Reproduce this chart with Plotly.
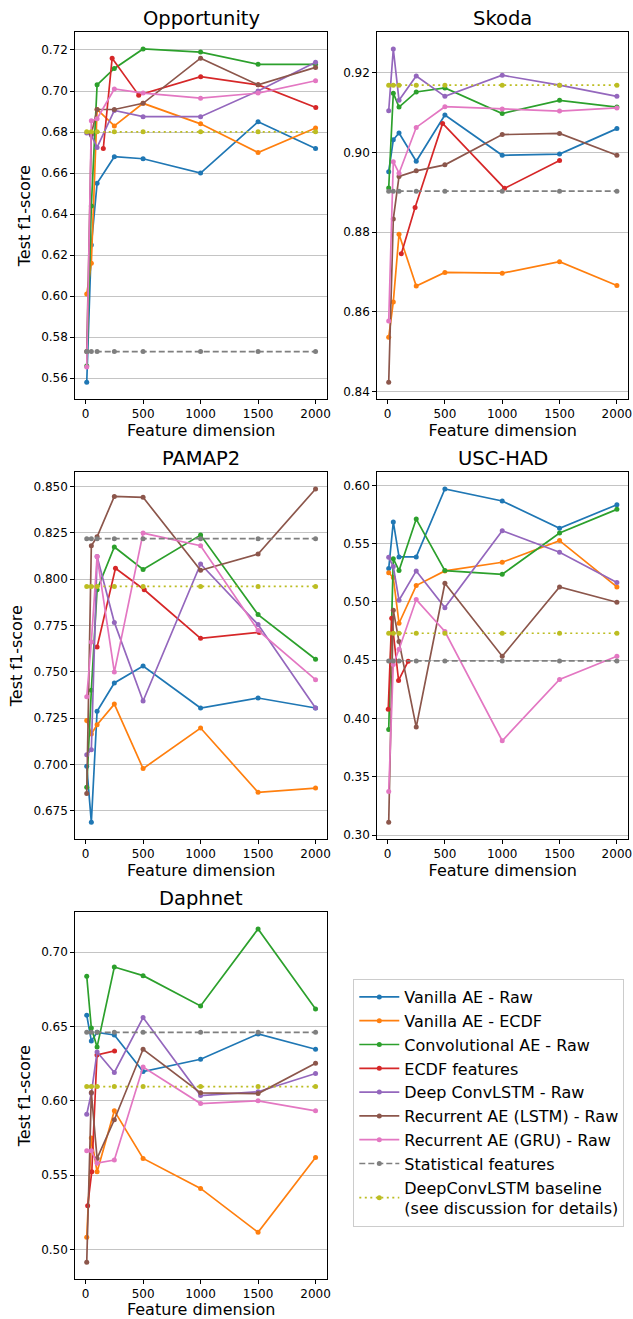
import plotly.graph_objects as go

# ---------------- data ----------------
series_names = [
    "Vanilla AE - Raw",
    "Vanilla AE - ECDF",
    "Convolutional AE - Raw",
    "ECDF features",
    "Deep ConvLSTM - Raw",
    "Recurrent AE (LSTM) - Raw",
    "Recurrent AE (GRU) - Raw",
    "Statistical features",
    "DeepConvLSTM baseline<br>(see discussion for details)",
]
colors = ["#1f77b4", "#ff7f0e", "#2ca02c", "#d62728", "#9467bd",
          "#8c564b", "#e377c2", "#7f7f7f", "#bcbd22"]

feature_dims = [10, 50, 100, 250, 500, 1000, 1500, 2000]

# Opportunity
opp_vanilla_raw = [0.558, 0.625, 0.655, 0.668, 0.667, 0.660, 0.685, 0.672]
opp_vanilla_ecdf = [0.601, 0.616, 0.691, 0.683, 0.694, 0.684, 0.670, 0.682]
opp_conv_raw = [0.566, 0.644, 0.703, 0.711, 0.7205, 0.719, 0.713, 0.713]
opp_ecdf_dims = [154, 231, 462, 1001, 1501, 2002]
opp_ecdf = [0.672, 0.716, 0.698, 0.707, 0.703, 0.692]
opp_convlstm = [0.6795, 0.6785, 0.6725, 0.6905, 0.6875, 0.6875, 0.700, 0.714]
opp_lstm = [0.573, 0.679, 0.691, 0.691, 0.694, 0.716, 0.703, 0.7115]
opp_gru = [0.5655, 0.6855, 0.6865, 0.701, 0.699, 0.6965, 0.699, 0.705]
opp_stat = 0.5730
opp_baseline = 0.6801

# Skoda
sko_vanilla_raw = [0.8952, 0.9032, 0.9049, 0.8978, 0.9094, 0.8993, 0.8996, 0.9060]
sko_vanilla_ecdf = [0.8536, 0.8625, 0.8795, 0.8665, 0.8699, 0.8697, 0.8726, 0.8666]
sko_conv_raw = [0.8911, 0.9149, 0.9114, 0.9152, 0.9162, 0.9098, 0.9131, 0.9114]
sko_ecdf_dims = [120, 240, 480, 1020, 1500]
sko_ecdf = [0.8746, 0.8862, 0.9073, 0.8910, 0.8980]
sko_convlstm = [0.9105, 0.9260, 0.9131, 0.9192, 0.9141, 0.9194, 0.9169, 0.9141]
sko_lstm = [0.8423, 0.8833, 0.8940, 0.8954, 0.8969, 0.9045, 0.9048, 0.8993]
sko_gru = [0.8577, 0.8977, 0.8948, 0.9063, 0.9115, 0.9109, 0.9104, 0.9112]
sko_stat = 0.8903
sko_baseline = 0.9169

# PAMAP2
pam_vanilla_raw = [0.6989, 0.6687, 0.7286, 0.7439, 0.7530, 0.7304, 0.7358, 0.7304]
pam_vanilla_ecdf = [0.7236, 0.7164, 0.7214, 0.7325, 0.6977, 0.7196, 0.6849, 0.6872]
pam_conv_raw = [0.6876, 0.7400, 0.7942, 0.8173, 0.8052, 0.8237, 0.7808, 0.7567]
pam_ecdf_dims = [100, 260, 510, 1000, 1510]
pam_ecdf = [0.7633, 0.8058, 0.7942, 0.7680, 0.7712]
pam_convlstm = [0.7052, 0.7079, 0.8122, 0.7766, 0.7342, 0.8081, 0.7754, 0.7304]
pam_lstm = [0.6843, 0.8180, 0.8228, 0.8446, 0.8441, 0.8047, 0.8135, 0.8486]
pam_gru = [0.7365, 0.7660, 0.8122, 0.7498, 0.8248, 0.8180, 0.7723, 0.7457]
pam_stat = 0.8218
pam_baseline = 0.7960

# USC-HAD
usc_vanilla_raw = [0.5286, 0.5686, 0.5386, 0.5386, 0.5969, 0.5866, 0.5631, 0.5834]
usc_vanilla_ecdf = [0.5250, 0.5209, 0.4817, 0.5140, 0.5266, 0.5340, 0.5526, 0.5129]
usc_conv_raw = [0.3906, 0.5371, 0.5269, 0.5711, 0.5269, 0.5237, 0.5591, 0.5794]
usc_ecdf_dims = [6, 36, 96, 180]
usc_ecdf = [0.4080, 0.4860, 0.4326, 0.4491]
usc_convlstm = [0.5383, 0.5303, 0.5014, 0.5266, 0.4951, 0.5611, 0.5426, 0.5166]
usc_lstm = [0.3109, 0.4929, 0.4660, 0.3926, 0.5160, 0.4534, 0.5129, 0.4997]
usc_gru = [0.3374, 0.4463, 0.4594, 0.5020, 0.4746, 0.3809, 0.4334, 0.4534]
usc_stat = 0.4494
usc_baseline = 0.4731

# Daphnet
dap_vanilla_raw = [0.6575, 0.6402, 0.6460, 0.6442, 0.6196, 0.6279, 0.6449, 0.6346]
dap_vanilla_ecdf = [0.5081, 0.5750, 0.5522, 0.5932, 0.5612, 0.5410, 0.5115, 0.5618]
dap_conv_raw = [0.6837, 0.6489, 0.6362, 0.6899, 0.6841, 0.6637, 0.7155, 0.6617]
dap_ecdf_dims = [18, 54, 99, 252]
dap_ecdf = [0.5294, 0.5522, 0.6308, 0.6335]
dap_convlstm = [0.5909, 0.6050, 0.6328, 0.6190, 0.6559, 0.6035, 0.6060, 0.6183]
dap_lstm = [0.4913, 0.6055, 0.5612, 0.5872, 0.6346, 0.6053, 0.6048, 0.6252]
dap_gru = [0.5663, 0.5663, 0.5580, 0.5601, 0.6227, 0.5981, 0.5999, 0.5932]
dap_stat = 0.6460
dap_baseline = 0.6095

datasets = [
    ("Opportunity", opp_vanilla_raw, opp_vanilla_ecdf, opp_conv_raw, opp_ecdf_dims, opp_ecdf,
     opp_convlstm, opp_lstm, opp_gru, opp_stat, opp_baseline, 0.02, ".2f"),
    ("Skoda", sko_vanilla_raw, sko_vanilla_ecdf, sko_conv_raw, sko_ecdf_dims, sko_ecdf,
     sko_convlstm, sko_lstm, sko_gru, sko_stat, sko_baseline, 0.02, ".2f"),
    ("PAMAP2", pam_vanilla_raw, pam_vanilla_ecdf, pam_conv_raw, pam_ecdf_dims, pam_ecdf,
     pam_convlstm, pam_lstm, pam_gru, pam_stat, pam_baseline, 0.025, ".3f"),
    ("USC-HAD", usc_vanilla_raw, usc_vanilla_ecdf, usc_conv_raw, usc_ecdf_dims, usc_ecdf,
     usc_convlstm, usc_lstm, usc_gru, usc_stat, usc_baseline, 0.05, ".2f"),
    ("Daphnet", dap_vanilla_raw, dap_vanilla_ecdf, dap_conv_raw, dap_ecdf_dims, dap_ecdf,
     dap_convlstm, dap_lstm, dap_gru, dap_stat, dap_baseline, 0.05, ".2f"),
]

# ---------------- layout geometry ----------------
W, H = 633, 1319
col_px = [(75.3, 327.0), (377.3, 628.3)]
row_px = [(32.3, 399.0), (472.3, 839.0), (912.3, 1279.0)]
FONT = "DejaVu Sans"

fig = go.Figure()
layout_axes = {}
annotations = []

for i, ds in enumerate(datasets):
    (title, v_raw, v_ecdf, conv, e_dims, e_vals, clstm, lstm, gru, stat, base, dtick, fmt) = ds
    r, c = divmod(i, 2)
    ax = "" if i == 0 else str(i + 1)
    xa, ya = "x" + ax, "y" + ax

    traces = [
        (feature_dims, v_raw), (feature_dims, v_ecdf), (feature_dims, conv),
        (e_dims, e_vals), (feature_dims, clstm), (feature_dims, lstm), (feature_dims, gru),
        (feature_dims, [stat] * len(feature_dims)), (feature_dims, [base] * len(feature_dims)),
    ]
    for k, (xs, ys) in enumerate(traces):
        dash = "solid"
        width = 1.7
        if k == 7:
            dash = "6px,3px"
        elif k == 8:
            dash = "2px,3.5px"
        fig.add_trace(go.Scatter(
            x=xs, y=ys, mode="lines+markers", name=series_names[k],
            line=dict(color=colors[k], width=width, dash=dash),
            marker=dict(color=colors[k], size=5),
            xaxis=xa, yaxis=ya, showlegend=(i == 0), legendgroup=str(k),
        ))

    all_y = v_raw + v_ecdf + conv + e_vals + clstm + lstm + gru + [stat, base]
    lo, hi = min(all_y), max(all_y)
    pad = (hi - lo) * 0.05
    x0, x1 = col_px[c]
    yt, yb = row_px[r]
    xdom = [x0 / W, x1 / W]
    ydom = [1 - yb / H, 1 - yt / H]

    layout_axes["xaxis" + ax] = dict(
        domain=xdom, anchor=ya, range=[-89.5, 2099.5],
        tickvals=[0, 500, 1000, 1500, 2000], ticktext=["0", "500", "1000", "1500", "2000"],
        showgrid=False, zeroline=False, showline=True, mirror=True,
        linecolor="black", linewidth=1, ticks="outside", ticklen=4, tickcolor="black",
        tickfont=dict(size=12, color="black", family=FONT),
        title=dict(text="Feature dimension", font=dict(size=16, color="black", family=FONT), standoff=4),
        automargin=False,
    )
    layout_axes["yaxis" + ax] = dict(
        domain=ydom, anchor=xa, range=[lo - pad, hi + pad],
        dtick=dtick, tick0=0, tickformat=fmt,
        showgrid=True, gridcolor="#c4c4c4", gridwidth=1, zeroline=False,
        showline=True, mirror=True, linecolor="black", linewidth=1,
        ticks="outside", ticklen=4, tickcolor="black",
        tickfont=dict(size=12, color="black", family=FONT),
        title=dict(text="Test f1-score" if c == 0 else "",
                   font=dict(size=16, color="black", family=FONT), standoff=6),
        automargin=False,
    )
    annotations.append(dict(
        text=title, x=(xdom[0] + xdom[1]) / 2, y=ydom[1], xref="paper", yref="paper",
        xanchor="center", yanchor="bottom", yshift=0, showarrow=False,
        font=dict(size=19.5, color="black", family=FONT),
    ))

fig.update_layout(
    width=W, height=H, margin=dict(l=0, r=0, t=0, b=0),
    paper_bgcolor="white", plot_bgcolor="white",
    font=dict(family=FONT, color="black"),
    annotations=annotations,
    legend=dict(
        x=353.3 / W, y=1 - 979.0 / H, xanchor="left", yanchor="top",
        bordercolor="#cccccc", borderwidth=1, bgcolor="white",
        font=dict(size=16, color="black", family=FONT),
        itemwidth=40, tracegroupgap=0,
    ),
    **layout_axes,
)

fig.write_html(
    "out.html",
    config={"displayModeBar": False},
    post_script="document.body.style.margin='0';document.body.style.overflow='hidden';",
)
